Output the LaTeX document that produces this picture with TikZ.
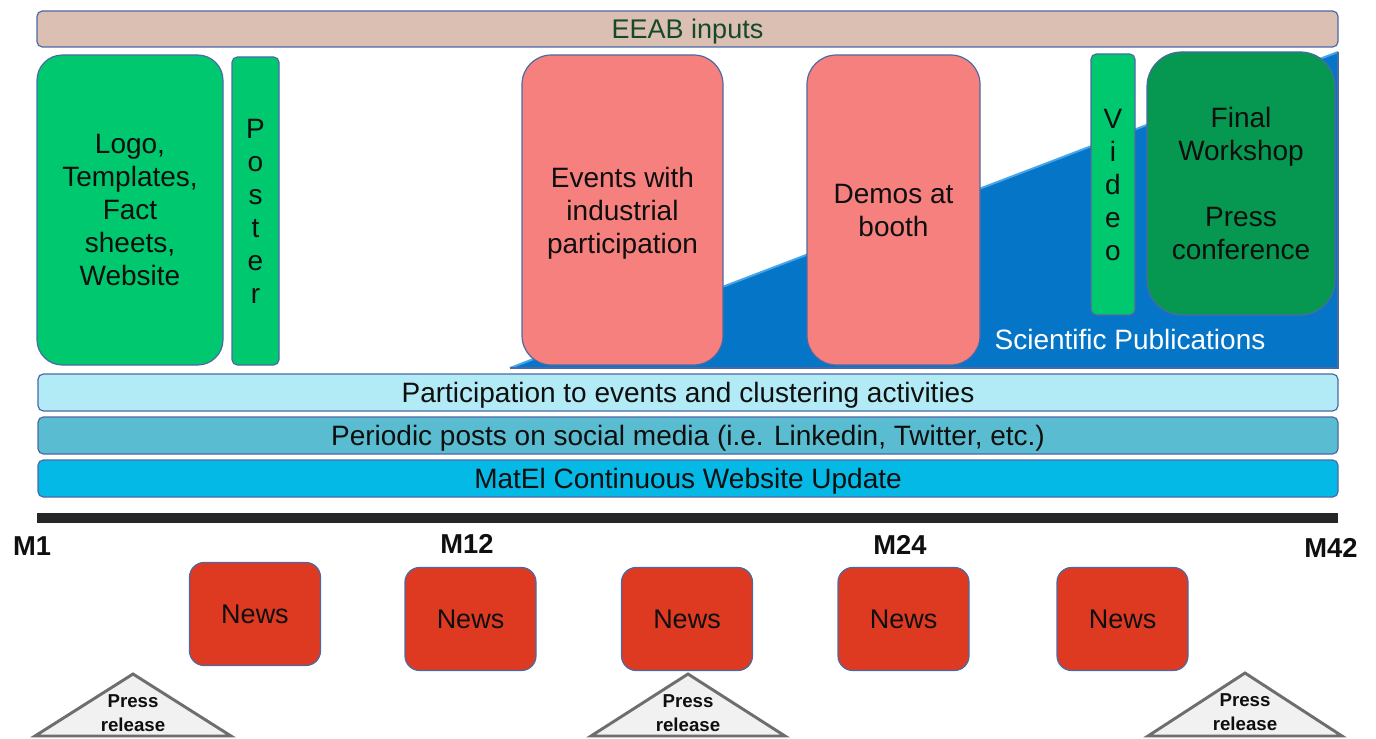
\documentclass[tikz,border=0pt]{standalone}
\usepackage{fontspec}
\setmainfont{Liberation Sans}
\definecolor{bord}{RGB}{75,105,165}
\definecolor{eeab}{RGB}{220,191,179}
\definecolor{eeabtxt}{RGB}{22,72,42}
\definecolor{lgreen}{RGB}{0,200,110}
\definecolor{dgreen}{RGB}{6,152,80}
\definecolor{pink}{RGB}{246,128,126}
\definecolor{sciblue}{RGB}{5,117,200}
\definecolor{sciedge}{RGB}{70,165,235}
\definecolor{partc}{RGB}{178,234,245}
\definecolor{perc}{RGB}{90,188,208}
\definecolor{matc}{RGB}{5,185,230}
\definecolor{barc}{RGB}{38,38,38}
\definecolor{newsc}{RGB}{222,58,34}
\definecolor{trif}{RGB}{240,241,240}
\definecolor{trid}{RGB}{110,110,110}
\definecolor{txt}{RGB}{15,15,15}
\newcommand\dfmain{\fontsize{21pt}{24.75pt}\selectfont}
\newcommand\dfsmall{\fontsize{20.25pt}{24.75pt}\selectfont}
\newcommand\dfpress{\fontsize{14pt}{17.5pt}\selectfont\bfseries}
\newcommand\dfmlab{\fontsize{20.5pt}{24pt}\selectfont\bfseries}
\begin{document}
\begin{tikzpicture}[x=0.75pt,y=-0.75pt,
  every node/.style={inner sep=0pt, outer sep=0pt, align=center, text=txt, font=\dfmain, text depth=0pt},
  boxst/.style={draw=bord, line width=0.9pt},
  band/.style={boxst, rounded corners=4pt, minimum width={1300*0.75pt}, minimum height={37*0.75pt}},
  newsbox/.style={boxst, fill=newsc, rounded corners=11pt, minimum width={131*0.75pt}, minimum height={103*0.75pt}, font=\dfsmall},
  prtri/.style={draw=trid, fill=trif, line width=2.2pt, line join=miter},
  mlab/.style={font=\dfmlab}]
\useasboundingbox (0,0) rectangle (1376,738);

% EEAB band
\node[boxst, fill=eeab, rounded corners=4pt, minimum width={1301*0.75pt}, minimum height={36*0.75pt}, text=eeabtxt, font=\dfsmall] (eeab) at (687.5,29) {EEAB inputs};

% scientific publications wedge
\fill[sciblue] (510,368) -- (1338,52) -- (1338,368) -- cycle;
\draw[sciedge, line width=1.5pt] (510,368) -- (1338,52);
\draw[bord, line width=0.8pt] (1338,52) -- (1338,368) -- (510,368);
\node[text=white] (sci) at (1130,339) {Scientific Publications};

% top boxes
\node[boxst, fill=lgreen, rounded corners=19pt, minimum width={186*0.75pt}, minimum height={310*0.75pt}] (logo) at (130,210) {Logo,\\Templates,\\Fact\\sheets,\\Website};
\node[boxst, fill=lgreen, rounded corners=4pt, minimum width={47*0.75pt}, minimum height={308*0.75pt}] (poster) at (255.5,211) {P\\o\\s\\t\\e\\r};
\node[boxst, fill=pink, rounded corners=22pt, minimum width={201*0.75pt}, minimum height={310*0.75pt}] (events) at (622.5,210) {Events with\\industrial\\participation};
\node[boxst, fill=pink, rounded corners=22pt, minimum width={173*0.75pt}, minimum height={310*0.75pt}] (demos) at (893.5,210) {Demos at\\booth};
\node[boxst, fill=lgreen, rounded corners=4pt, minimum width={44*0.75pt}, minimum height={261*0.75pt}] (video) at (1113,184.5) {V\\i\\d\\e\\o};
\node[boxst, fill=dgreen, rounded corners=26pt, minimum width={188*0.75pt}, minimum height={263*0.75pt}] (final) at (1241,183.5) {Final\\Workshop\\[24.75pt]Press\\conference};

% bands
\node[band, fill=partc] (part) at (688,392.5) {Participation to events and clustering activities};
\node[band, fill=perc] (posts) at (688,435.5) {Periodic posts on social media (i.e. Linkedin, Twitter, etc.)};
\node[band, fill=matc] (matel) at (688,478.5) {MatEl Continuous Website Update};

% timeline
\coordinate (tl) at (37,518);
\coordinate (tr) at (1338,518);
\draw[barc, line width=7.5pt] (tl) -- (tr);
\node[mlab] (m1) at (32,546) {M1};
\node[mlab] (m12) at (467,544) {M12};
\node[mlab] (m24) at (900,545) {M24};
\node[mlab] (m42) at (1331,548) {M42};

% news
\node[newsbox] (n1) at (255,614) {News};
\node[newsbox] (n2) at (470.5,619) {News};
\node[newsbox] (n3) at (687,619) {News};
\node[newsbox] (n4) at (903.5,619) {News};
\node[newsbox] (n5) at (1122.5,619) {News};

% press release triangles
\draw[prtri] (133,674) -- (231,736) -- (35,736) -- cycle;
\node[font=\dfpress] (pr1) at (133,713) {Press\\release};
\draw[prtri] (688,674) -- (785,736) -- (591,736) -- cycle;
\node[font=\dfpress] (pr2) at (688,713) {Press\\release};
\draw[prtri] (1245,673) -- (1342,736) -- (1148,736) -- cycle;
\node[font=\dfpress] (pr3) at (1245,712) {Press\\release};
\end{tikzpicture}
\end{document}
